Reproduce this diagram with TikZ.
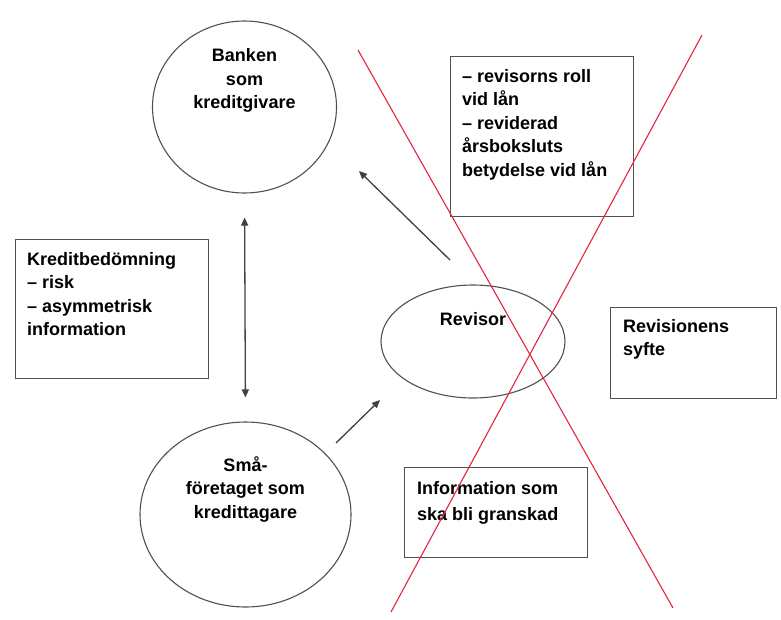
\documentclass[tikz,border=0pt]{standalone}
\usepackage{fontspec}
\setmainfont{Liberation Sans}
\usetikzlibrary{arrows.meta,positioning,shapes.geometric}

\definecolor{edgegray}{RGB}{80,80,80}
\definecolor{crossred}{RGB}{226,36,64}

\begin{document}
\begin{tikzpicture}[
  x=1pt,y=-1pt,
  txt/.style={font=\fontsize{18}{23.5}\selectfont\bfseries,inner sep=0pt,align=left},
  ctxt/.style={txt,align=center},
  actor/.style={ellipse,draw=edgegray,line width=1.1pt,inner sep=0pt},
  infobox/.style={rectangle,draw=edgegray,line width=1.1pt,inner sep=0pt,anchor=north west},
  arr/.style={-{Triangle[length=8pt,width=7pt]},line width=1.3pt,black!75},
  dblarr/.style={{Triangle[length=8pt,width=7pt]}-{Triangle[length=8pt,width=7pt]},line width=1.3pt,black!75},
  cross/.style={crossred,line width=1.1pt}
]
  \useasboundingbox (0,0) rectangle (781,619);

  % Actors
  \node[actor,minimum width=184pt,minimum height=172pt] (bank) at (244.5,107) {};
  \node[actor,minimum width=211pt,minimum height=185pt] (sma) at (245.5,514.5) {};
  \node[actor,minimum width=184pt,minimum height=113pt] (rev) at (473,341.5) {};

  \node[ctxt,below=28pt of bank.north] (banktxt) {Banken\\som\\kreditgivare};
  \node[ctxt,below=35pt of sma.north] (smatxt) {Små-\\företaget som\\kredittagare};
  \node[ctxt,below=28pt of rev.north] (revtxt) {Revisor};

  % Boxes
  \node[infobox,minimum width=193pt,minimum height=139pt] (kred) at (15,239) {};
  \node[infobox,minimum width=183pt,minimum height=160pt] (roll) at (450,56) {};
  \node[infobox,minimum width=166pt,minimum height=91pt] (syfte) at (610,307) {};
  \node[infobox,minimum width=183pt,minimum height=90pt] (gransk) at (404,467) {};

  \node[txt,below right=13pt and 12pt of kred.north west] (kredtxt)
    {Kreditbedömning\\– risk\\– asymmetrisk\\information};
  \node[txt,below right=13pt and 12pt of roll.north west] (rolltxt)
    {– revisorns roll\\vid lån\\– reviderad\\årsboksluts\\betydelse vid lån};
  \node[txt,below right=12pt and 13pt of syfte.north west] (syftetxt)
    {Revisionens\\syfte};
  \node[txt,font=\fontsize{18}{26}\selectfont\bfseries,below right=14pt and 13pt of gransk.north west] (granstxt)
    {Information som\\ska bli granskad};

  % Connectors
  \coordinate (revtail) at (450,260);
  \coordinate (banktip) at (359,171);
  \coordinate (smatail) at (336,443);
  \coordinate (revtip) at (380,400);

  \draw[dblarr,shorten <=24pt,shorten >=24pt] (bank.south) -- (sma.north);
  \draw[arr] (revtail) -- (banktip);
  \draw[arr] (smatail) -- (revtip);

  % Crossed out
  \coordinate (xa) at (358,50);
  \coordinate (xb) at (673,608);
  \coordinate (xc) at (702,35);
  \coordinate (xd) at (391,612);
  \draw[cross] (xa) -- (xb);
  \draw[cross] (xc) -- (xd);
\end{tikzpicture}
\end{document}
